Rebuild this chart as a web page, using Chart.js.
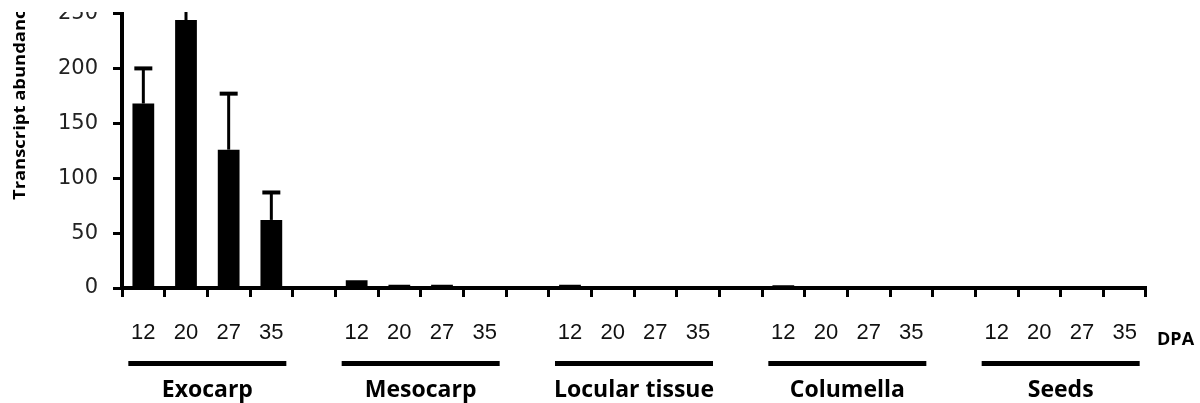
<!DOCTYPE html>
<html><head><meta charset="utf-8">
<script src="https://cdn.jsdelivr.net/npm/chart.js@4/dist/chart.umd.min.js"></script>
<style>
html,body{margin:0;padding:0;background:#fff;overflow:hidden;width:1200px;height:403px;}
#wrap{position:absolute;left:0;top:0;width:1200px;height:403px;}
</style></head><body>
<div id="wrap"><canvas id="c" width="1200" height="403"></canvas></div>
<script>
// ---- data ----
const groups = ['Exocarp', 'Mesocarp', 'Locular tissue', 'Columella', 'Seeds'];
const dpaLabels = ['12', '20', '27', '35'];
const exocarp = [168, 244, 126, 62];
const exocarpErr = [32, 21, 51, 25];
const mesocarp = [7, 3, 3, 0];
const mesocarpErr = [0, 0, 0, 0];
const locular = [3, 0, 0, 0];
const locularErr = [0, 0, 0, 0];
const columella = [2.5, 0, 0, 0];
const columellaErr = [0, 0, 0, 0];
const seeds = [0, 0, 0, 0];
const seedsErr = [0, 0, 0, 0];
const yTicks = [0, 50, 100, 150, 200, 250];
const yTitle = 'Transcript abundance';
const xUnit = 'DPA';

// ---- build category table (empty slot between tissues) ----
const groupValues = [exocarp, mesocarp, locular, columella, seeds];
const groupErrs = [exocarpErr, mesocarpErr, locularErr, columellaErr, seedsErr];
const labels = [], values = [], errs = [];
groups.forEach((g, gi) => {
  dpaLabels.forEach((d, di) => { labels.push(d); values.push(groupValues[gi][di]); errs.push(groupErrs[gi][di]); });
  if (gi < groups.length - 1) { labels.push(''); values.push(null); errs.push(0); }
});
const slot = dpaLabels.length + 1;

const annot = {
  id: 'annot',
  beforeDraw(chart) {
    // the reference figure is cropped just above the axis top
    const ctx = chart.ctx;
    ctx.save();
    ctx.beginPath(); ctx.rect(0, 12, chart.width, chart.height - 12); ctx.clip();
  },
  afterDatasetsDraw(chart) {
    const ctx = chart.ctx, xs = chart.scales.x, ys = chart.scales.y;
    ctx.save();
    ctx.strokeStyle = '#000';
    errs.forEach((e, i) => {
      if (!e) return;
      const px = xs.getPixelForValue(i);
      const y0 = ys.getPixelForValue(values[i]);
      const y1 = ys.getPixelForValue(values[i] + e);
      ctx.lineWidth = 3;
      ctx.beginPath(); ctx.moveTo(px, y0); ctx.lineTo(px, y1); ctx.stroke();
      ctx.lineWidth = 4;
      ctx.beginPath(); ctx.moveTo(px - 9, y1); ctx.lineTo(px + 9, y1); ctx.stroke();
    });
    ctx.restore();
  },
  afterDraw(chart) {
    const ctx = chart.ctx, xs = chart.scales.x, area = chart.chartArea;
    ctx.save();
    ctx.fillStyle = '#000';
    groups.forEach((g, gi) => {
      const first = gi * slot, last = first + dpaLabels.length - 1;
      const cx = (xs.getPixelForValue(first) + xs.getPixelForValue(last)) / 2;
      ctx.fillRect(cx - 79, area.bottom + 73, 158, 5);
      ctx.font = 'bold 23px "Open Sans"';
      ctx.textAlign = 'center';
      ctx.textBaseline = 'alphabetic';
      ctx.fillText(g, cx, area.bottom + 109);
    });
    ctx.font = 'bold 18px "Open Sans"';
    ctx.textAlign = 'left';
    ctx.fillText(xUnit, area.right + 11, area.bottom + 57);
    ctx.translate(25, area.bottom - 88);
    ctx.rotate(-Math.PI / 2);
    ctx.scale(1.15, 1);
    ctx.font = 'bold 16px "Open Sans"';
    ctx.fillText(yTitle, 0, 0);
    ctx.restore();
    ctx.restore(); // end of crop clip
  }
};

new Chart(document.getElementById('c'), {
  type: 'bar',
  data: {
    labels: labels,
    datasets: [{ data: values, backgroundColor: '#000', borderWidth: 0, barPercentage: 0.51, categoryPercentage: 1 }]
  },
  options: {
    responsive: false, animation: false, devicePixelRatio: 1,
    layout: { padding: { top: 13.5, right: 54, left: 0, bottom: 0 } },
    plugins: { legend: { display: false }, tooltip: { enabled: false } },
    scales: {
      x: {
        type: 'category', offset: true,
        grid: { offset: true, drawOnChartArea: false, drawTicks: true, tickLength: 9, tickWidth: 3, tickColor: '#000' },
        border: { display: true, color: '#000', width: 4 },
        ticks: { font: { family: 'Liberation Sans', size: 22 }, color: '#111', padding: 23, maxRotation: 0, minRotation: 0, autoSkip: false },
        afterFit(s) { s.height = 115; s.paddingLeft = 0; s.paddingRight = 0; }
      },
      y: {
        min: 0, max: 250,
        afterBuildTicks(s) { s.ticks = yTicks.map(v => ({ value: v })); },
        grid: { drawOnChartArea: false, drawTicks: true, tickLength: 9, tickWidth: 3, tickColor: '#000' },
        border: { display: true, color: '#000', width: 4 },
        ticks: { font: { family: 'DejaVu Sans', size: 21 }, color: '#222', padding: 15 },
        afterFit(s) { s.width = 122; s.paddingTop = 0; s.paddingBottom = 0; }
      }
    }
  },
  plugins: [annot]
});
</script>
</body></html>
